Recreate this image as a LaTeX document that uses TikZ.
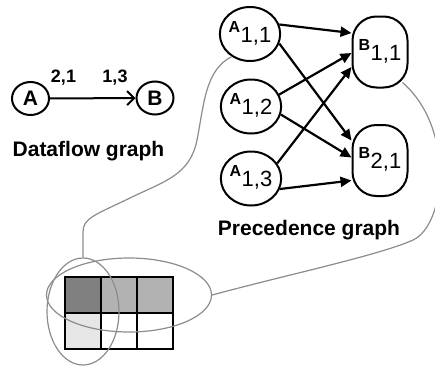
\documentclass[tikz,border=0pt]{standalone}
\usepackage{fontspec}
\setmainfont{Liberation Sans}
\usetikzlibrary{arrows.meta,shapes.geometric,calc}
\definecolor{cellD}{HTML}{808080}
\definecolor{cellM}{HTML}{B2B2B2}
\definecolor{cellL}{HTML}{E6E6E6}
\definecolor{lgray}{HTML}{8C8C8C}
\newcommand\subtxt[1]{\kern0.5pt\raisebox{-10pt}{\fontsize{22}{22}\selectfont\mdseries #1}}
\begin{document}
\begin{tikzpicture}[x=1pt,y=-1pt,
  bigtxt/.style={font=\fontsize{21}{21}\selectfont\bfseries, inner sep=0pt},
  labtxt/.style={font=\fontsize{18}{18}\selectfont\bfseries, inner sep=0pt},
  dfnode/.style={ellipse,draw,line width=2pt,minimum width=37pt,minimum height=33pt,inner sep=0pt,font=\fontsize{21}{21}\selectfont\bfseries},
  anode/.style={ellipse,draw,line width=2pt,minimum width=52pt,minimum height=54pt,inner sep=0pt,text height=11.5pt,text depth=15.5pt,font=\fontsize{16}{16}\selectfont\bfseries},
  bnode/.style={rectangle,rounded corners=24pt,draw,line width=2pt,minimum width=55pt,minimum height=71pt,inner sep=0pt,text height=11.5pt,text depth=15.5pt,font=\fontsize{16}{16}\selectfont\bfseries},
  parr/.style={line width=2.2pt,-{Triangle[length=11pt,width=10pt]}},
  darr/.style={line width=2pt,-{Straight Barb[length=7pt,width=14pt,line width=2pt]}},
  gline/.style={draw=lgray,line width=1.2pt},
  gridline/.style={line width=2.2pt,line cap=rect},
]
\useasboundingbox (0,0) rectangle (435,367);
\clip (0,0) rectangle (435,367);

% dataflow graph
\node[dfnode] (dA) at (30.5,98.5) {A};
\node[dfnode] (dB) at (155,98) {B};
\draw[darr] (dA) -- (dB);
\node[labtxt] (l21) at (63.5,77.5) {2,1};
\node[labtxt] (l13) at (115,77.5) {1,3};
\node[bigtxt] (dft) at (88.5,151) {Dataflow graph};

% precedence graph
\node[anode] (a11) at (250,34) {A\subtxt{1,1}};
\node[anode] (a12) at (251,106.5) {A\subtxt{1,2}};
\node[anode] (a13) at (251,178.5) {A\subtxt{1,3}};
\node[bnode] (b11) at (380,52) {B\subtxt{1,1}};
\node[bnode] (b21) at (380,160.5) {B\subtxt{2,1}};
\node[bigtxt] (pgt) at (309,230) {Precedence graph};

\draw[parr] (a11.18) -- ([yshift=19pt]b11.west);
\draw[parr] (a11.-18) -- ([yshift=20pt]b21.west);
\draw[parr] (a12.23) -- ([yshift=-1pt]b11.west);
\draw[parr] (a12.-15) -- ([yshift=3pt]b21.west);
\draw[parr] (a13.30) -- ([yshift=-15pt]b11.west);
\draw[parr] (a13.-20) -- ([yshift=-20pt]b21.west);

% grid
\fill[cellD] (65,277) rectangle (101,313);
\fill[cellM] (101,277) rectangle (137,313);
\fill[cellM] (137,277) rectangle (173,313);
\fill[cellL] (65,313) rectangle (101,349);
\foreach \xx in {65,101,137,173} \draw[gridline] (\xx,277) -- (\xx,349);
\foreach \yy in {277,313,349} \draw[gridline] (65,\yy) -- (173,\yy);

% ellipses
\node[ellipse,gline,minimum width=165pt,minimum height=74pt,inner sep=0pt] (hell) at (129,295) {};
\node[ellipse,gline,minimum width=72pt,minimum height=107pt,inner sep=0pt] (vell) at (83,311.5) {};

% connecting curves
\draw[gline] (vell.north) -- (83,232) .. controls (83,218) and (95,215) .. (130,198)
  .. controls (165,181) and (190,175) .. (197,140)
  .. controls (204,105) and (205,70) .. (a11.231);
\draw[gline] (hell.east) .. controls (290,274) and (380,255) .. (413,240)
  .. controls (446,225) and (455,128) .. ([xshift=-6pt,yshift=6pt]b11.south east);
\end{tikzpicture}
\end{document}
